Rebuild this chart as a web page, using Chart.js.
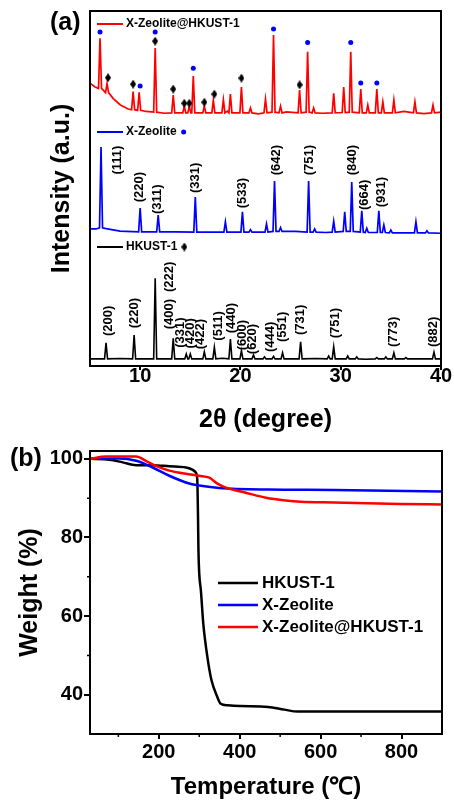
<!DOCTYPE html>
<html>
<head>
<meta charset="utf-8">
<title>XRD and TGA</title>
<script src="https://cdn.jsdelivr.net/npm/chart.js@4.4.1/dist/chart.umd.min.js"></script>
<style>
	html, body { margin:0; padding:0; background:#fff; }
	#wrap { position:relative; width:454px; height:803px; }
	canvas { position:absolute; left:0; }
	#xrd { top:0; }
	#tga { top:440px; }
</style>
</head>
<body>
<div id="wrap">
	<canvas id="xrd" width="454" height="440"></canvas>
	<canvas id="tga" width="454" height="363"></canvas>
</div>
<script>
// ---- (a) XRD, stacked patterns (intensity in a.u. incl. offset) ----
const hkustPeakPos  = [6.6, 9.4, 11.5, 13.3, 14.6, 15.0, 16.4, 17.4, 19.0, 20.1, 21.3, 22.4, 23.3, 24.2, 26.0, 28.8, 29.3, 30.7, 31.6, 33.6, 34.5, 35.3, 36.5, 39.3];
const hkustPeakTop  = [6.5, 8.7, 24.7, 7.8, 3.4, 3.4, 4.0, 5.3, 7.6, 4.3, 3.1, 2.6, 2.7, 3.7, 6.8, 2.8, 5.4, 2.8, 2.6, 2.4, 2.6, 3.7, 2.4, 3.9];
const hkustPeakBase = [2.0, 2.0, 2.0, 2.0, 2.0, 2.0, 2.0, 2.0, 2.0, 2.0, 2.0, 2.0, 2.0, 2.0, 2.0, 2.0, 2.0, 2.0, 2.0, 2.0, 2.0, 2.0, 2.0, 2.0];
const hkustBgTheta  = [5, 8.0, 12.2, 18.2, 22.0, 27.5, 32.5, 37.5, 40];
const hkustBgValue  = [2.0, 2.1, 2.0, 2.2, 2.0, 2.1, 1.9, 2.0, 2.0];

const zeolitePeakPos  = [6.1, 10.0, 11.8, 15.5, 18.5, 20.2, 21.0, 22.6, 23.4, 24.0, 26.8, 27.4, 29.3, 30.4, 31.1, 32.1, 32.6, 33.8, 34.3, 35.0, 37.5, 38.6];
const zeolitePeakTop  = [61.7, 44.5, 42.5, 47.6, 40.6, 43.4, 38.4, 40.0, 52.1, 39.0, 52.1, 38.6, 40.8, 43.4, 51.8, 43.7, 38.8, 43.7, 39.7, 38.3, 40.6, 38.1];
const zeolitePeakBase = [38.9, 37.8, 37.8, 37.7, 37.7, 37.7, 37.7, 37.7, 37.9, 37.9, 37.7, 37.7, 37.7, 37.9, 37.9, 37.7, 37.6, 37.6, 37.6, 37.5, 37.5, 37.5];
const zeoliteBgTheta  = [5, 5.6, 6.6, 8.0, 13.5, 17.0, 25.5, 28.5, 36.0, 40];
const zeoliteBgValue  = [38.6, 38.6, 38.7, 38.0, 37.8, 37.7, 37.9, 37.6, 37.5, 37.4];

const compositePeakPos  = [6.0, 6.7, 9.3, 9.9, 11.5, 13.3, 14.4, 14.9, 15.3, 16.4, 17.3, 18.3, 19.0, 20.1, 21.0, 22.5, 23.3, 24.0, 25.9, 26.7, 27.3, 29.3, 30.3, 31.0, 32.0, 32.7, 33.6, 34.2, 35.3, 37.4, 39.2];
const compositePeakTop  = [92.3, 79.6, 77.3, 77.1, 89.6, 76.3, 73.2, 73.2, 81.7, 73.2, 74.9, 75.0, 76.6, 78.6, 72.7, 75.2, 93.2, 73.2, 77.7, 88.5, 72.7, 76.8, 78.6, 88.5, 78.0, 73.5, 78.0, 74.4, 74.9, 74.4, 73.5];
const compositePeakBase = [78.2, 77.0, 72.2, 72.0, 71.5, 71.3, 71.3, 71.3, 71.3, 71.3, 71.3, 71.3, 71.3, 71.3, 71.3, 71.3, 71.5, 71.3, 71.3, 71.5, 71.3, 71.3, 71.4, 71.5, 71.3, 71.3, 71.3, 71.3, 71.3, 71.3, 71.3];
const compositeBgTheta  = [5, 5.5, 7.3, 8.0, 8.8, 10.6, 12.4, 18.7, 21.8, 24.6, 28.2, 36.3, 38.3, 40];
const compositeBgValue  = [79.7, 78.6, 75.4, 73.6, 72.4, 71.7, 71.2, 71.8, 71.0, 71.6, 71.2, 71.7, 71.1, 71.5];

// phase markers on the composite pattern
const zeoliteMarkTheta = [6.0, 10.0, 11.5, 15.3, 23.3, 26.7, 31.0, 32.0, 33.6];
const zeoliteMarkValue = [94.1, 78.9, 94.1, 83.9, 94.9, 91.1, 91.1, 79.7, 79.7];
const hkustMarkTheta   = [6.8, 9.3, 11.5, 13.3, 14.4, 14.9, 16.4, 17.4, 20.1, 25.9];
const hkustMarkValue   = [81.2, 79.4, 91.5, 78.0, 74.0, 74.0, 74.3, 76.6, 81.1, 79.2];

// Miller index labels
const zeoliteHkl      = ['(111)', '(220)', '(311)', '(331)', '(533)', '(642)', '(751)', '(840)', '(664)', '(931)'];
const zeoliteHklTheta = [7.7, 9.9, 11.7, 15.5, 20.2, 23.6, 26.9, 31.2, 32.4, 34.1];
const hkustHkl        = ['(200)', '(220)', '(222)', '(400)', '(331)', '(420)', '(422)', '(511)', '(440)', '(600)', '(620)', '(444)', '(551)', '(731)', '(751)', '(773)', '(882)'];
const hkustHklTheta   = [6.8, 9.4, 12.9, 12.9, 14.0, 15.0, 16.0, 17.8, 19.1, 20.2, 21.2, 23.0, 24.2, 26.0, 29.5, 35.3, 39.2];
// label centre heights (layout, in a.u.)
const zeoliteHklLevel = [58.0, 50.4, 47.0, 53.0, 48.7, 58.0, 58.0, 58.0, 48.2, 49.0];
const hkustHklLevel   = [12.7, 14.9, 25.1, 14.6, 9.4, 9.2, 9.0, 11.3, 13.5, 8.7, 7.6, 8.2, 11.0, 13.0, 12.1, 9.6, 9.6];

const xrdTicks = [10, 20, 30, 40];

// ---- (b) TGA ----
const hkustTemp   = [30, 78, 111, 144, 185, 226, 267, 284, 291, 295, 297, 298, 300, 304, 310, 320, 330, 344, 353, 370, 400, 470, 510, 543, 700, 900];
const hkustWeight = [100, 99.8, 99.1, 98.4, 98.4, 98.1, 97.8, 97.2, 96.6, 95.0, 85.0, 77.0, 70.8, 66.6, 58.1, 49.7, 43.8, 39.6, 37.7, 37.3, 37.1, 36.9, 36.2, 35.7, 35.7, 35.7];
const zeoliteTemp   = [30, 102, 144, 185, 226, 267, 300, 349, 469, 633, 900];
const zeoliteWeight = [100, 100.1, 99.5, 97.8, 95.7, 94.0, 93.2, 92.6, 92.2, 92.1, 91.7];
const compositeTemp   = [30, 70, 144, 168, 193, 226, 267, 300, 325, 345, 366, 415, 465, 514, 551, 633, 798, 900];
const compositeWeight = [100, 100.6, 100.6, 99.5, 98.2, 97.0, 96.2, 95.7, 95.2, 93.7, 92.7, 91.4, 90.1, 89.4, 89.1, 88.9, 88.5, 88.4];

const tempTicks = [200, 400, 600, 800];
const weightTicks = [40, 60, 80, 100];

(function(){
	const RED = '#ff0000';
	const BLUE = '#0000ff';
	const FONT = '"Liberation Sans", Arial, sans-serif';
	const PEAK_HALF = 0.15;

	function pattern(pos, top, base, bgX, bgY){
		const pts = bgX.map((x,i) => ({ x, y: bgY[i] }));
		pos.forEach((p,i) => {
			pts.push({ x: p - PEAK_HALF, y: base[i] });
			pts.push({ x: p, y: top[i] });
			pts.push({ x: p + PEAK_HALF, y: base[i] });
		});
		return pts.sort((a,b) => a.x - b.x);
	}

	function pairs(xs, ys){ return xs.map((x,i) => ({ x, y: ys[i] })); }

	const diamond = (function(){
		const c = document.createElement('canvas');
		c.width = 6; c.height = 9;
		const g = c.getContext('2d');
		g.fillStyle = '#000';
		g.beginPath(); g.moveTo(3,0); g.lineTo(6,4.5); g.lineTo(3,9); g.lineTo(0,4.5); g.closePath(); g.fill();
		return c;
	})();

	const framePlugin = {
		id: 'frame',
		afterDatasetsDraw(chart){
			const { ctx, chartArea: a } = chart;
			ctx.save();
			ctx.strokeStyle = '#000'; ctx.lineWidth = 2;
			ctx.strokeRect(a.left, a.top, a.right - a.left, a.bottom - a.top);
			ctx.restore();
		}
	};

	// panel letter drawn in canvas pixels
	const notesPlugin = {
		id: 'notes',
		afterDraw(chart, args, opts){
			const { ctx } = chart;
			ctx.save();
			ctx.fillStyle = '#000';
			ctx.font = 'bold 25px ' + FONT;
			ctx.textBaseline = 'middle';
			ctx.fillText(opts.panel, opts.panelX, opts.panelY);
			ctx.restore();
		}
	};

	const hklPlugin = {
		id: 'hkl',
		afterDatasetsDraw(chart, args, opts){
			const { ctx, scales: { x, y } } = chart;
			ctx.save();
			ctx.font = 'bold 13px ' + FONT;
			ctx.fillStyle = '#000';
			ctx.textAlign = 'center'; ctx.textBaseline = 'middle';
			opts.groups.forEach(g => g.text.forEach((t,i) => {
				ctx.save();
				ctx.translate(x.getPixelForValue(g.theta[i]), y.getPixelForValue(g.level[i]));
				ctx.rotate(-Math.PI/2);
				ctx.fillText(t, 0, 0);
				ctx.restore();
			}));
			ctx.restore();
		}
	};

	// inline series keys for the XRD panel
	const xrdKeyPlugin = {
		id: 'xrdKeys',
		afterDraw(chart, args, opts){
			const { ctx } = chart;
			ctx.save();
			ctx.font = 'bold 12px ' + FONT;
			ctx.textBaseline = 'middle';
			opts.rows.forEach(r => {
				ctx.strokeStyle = r.color; ctx.lineWidth = 2;
				ctx.beginPath(); ctx.moveTo(97, r.y); ctx.lineTo(123, r.y); ctx.stroke();
				ctx.fillStyle = '#000';
				ctx.fillText(r.text, 126, r.y);
				const mx = 126 + ctx.measureText(r.text).width + 7;
				if(r.mark === 'dot'){
					ctx.fillStyle = BLUE;
					ctx.beginPath(); ctx.arc(mx, r.y, 2.5, 0, Math.PI*2); ctx.fill();
				}else if(r.mark === 'diamond'){
					ctx.drawImage(diamond, mx - 3, r.y - 4.5);
				}
			});
			ctx.restore();
		}
	};

	const tgaKeyPlugin = {
		id: 'tgaKeys',
		afterDraw(chart){
			const { ctx } = chart;
			ctx.save();
			ctx.font = 'bold 17px ' + FONT;
			ctx.textBaseline = 'middle';
			chart.data.datasets.forEach((ds,i) => {
				const y = 143 + i*22;
				ctx.strokeStyle = ds.borderColor; ctx.lineWidth = 2.5;
				ctx.beginPath(); ctx.moveTo(218, y); ctx.lineTo(258, y); ctx.stroke();
				ctx.fillStyle = '#000';
				ctx.fillText(ds.label, 262, y);
			});
			ctx.restore();
		}
	};

	const minorTickPlugin = {
		id: 'minorTicks',
		afterDatasetsDraw(chart, args, opts){
			const { ctx, chartArea: a, scales: { x, y } } = chart;
			ctx.save();
			ctx.strokeStyle = '#000'; ctx.lineWidth = 1.5;
			ctx.beginPath();
			opts.x.forEach(v => { const px = x.getPixelForValue(v); ctx.moveTo(px, a.bottom); ctx.lineTo(px, a.bottom + 3); });
			opts.y.forEach(v => { const py = y.getPixelForValue(v); ctx.moveTo(a.left, py); ctx.lineTo(a.left - 3, py); });
			ctx.stroke();
			ctx.restore();
		}
	};

	const tickFont = { family: FONT, size: 20, weight: 'bold', lineHeight: 1 };
	const titleFont = { family: FONT, size: 25, weight: 'bold' };
	const tickGrid = { display: true, drawOnChartArea: false, drawTicks: true, color: '#000', lineWidth: 2 };

	function keepTicks(list){
		return scale => { scale.ticks = list.map(v => ({ value: v })); };
	}

	// (a) XRD
	new Chart(document.getElementById('xrd'), {
		type: 'line',
		data: {
			datasets: [
				{ label: 'X-Zeolite@HKUST-1', data: pattern(compositePeakPos, compositePeakTop, compositePeakBase, compositeBgTheta, compositeBgValue), borderColor: RED, borderWidth: 1.7, pointRadius: 0, order: 3 },
				{ label: 'X-Zeolite', data: pattern(zeolitePeakPos, zeolitePeakTop, zeolitePeakBase, zeoliteBgTheta, zeoliteBgValue), borderColor: BLUE, borderWidth: 1.7, pointRadius: 0, order: 3 },
				{ label: 'HKUST-1', data: pattern(hkustPeakPos, hkustPeakTop, hkustPeakBase, hkustBgTheta, hkustBgValue), borderColor: '#000', borderWidth: 1.6, pointRadius: 0, order: 3 },
				{ label: 'X-Zeolite marks', data: pairs(zeoliteMarkTheta, zeoliteMarkValue), showLine: false, pointStyle: 'circle', pointRadius: 2.5, backgroundColor: BLUE, borderWidth: 0, order: 0 },
				{ label: 'HKUST-1 marks', data: pairs(hkustMarkTheta, hkustMarkValue), showLine: false, pointStyle: diamond, order: 0 }
			]
		},
		options: {
			responsive: false,
			animation: false,
			events: [],
			layout: { padding: { top: 11, right: 13, left: 0, bottom: 0 } },
			plugins: {
				legend: { display: false },
				tooltip: { enabled: false },
				notes: { panel: '(a)', panelX: 50, panelY: 23 },
				hkl: { groups: [
					{ text: zeoliteHkl, theta: zeoliteHklTheta, level: zeoliteHklLevel },
					{ text: hkustHkl, theta: hkustHklTheta, level: hkustHklLevel }
				] },
				xrdKeys: { rows: [
					{ text: 'X-Zeolite@HKUST-1', color: RED, y: 24, mark: null },
					{ text: 'X-Zeolite', color: BLUE, y: 132, mark: 'dot' },
					{ text: 'HKUST-1', color: '#000', y: 247, mark: 'diamond' }
				] }
			},
			scales: {
				x: {
					type: 'linear', min: 5, max: 40,
					afterBuildTicks: keepTicks(xrdTicks),
					ticks: { font: tickFont, color: '#000', padding: -4, maxRotation: 0 },
					grid: { ...tickGrid, tickLength: 4 },
					border: { display: false },
					title: { display: true, text: '2θ (degree)', font: titleFont, color: '#000', padding: { top: 0, bottom: 5 } },
					afterFit(s){ s.height = 74; }
				},
				y: {
					min: 0, max: 100,
					ticks: { display: false },
					grid: { display: false },
					border: { display: false },
					title: { display: true, text: 'Intensity (a.u.)', font: titleFont, color: '#000', padding: { top: 47, bottom: 0 } },
					afterFit(s){ s.width = 90; }
				}
			}
		},
		plugins: [framePlugin, hklPlugin, xrdKeyPlugin, notesPlugin]
	});

	// (b) TGA
	const tgaLine = { borderWidth: 2.5, pointRadius: 0, cubicInterpolationMode: 'monotone' };
	new Chart(document.getElementById('tga'), {
		type: 'line',
		data: {
			datasets: [
				{ label: 'HKUST-1', data: pairs(hkustTemp, hkustWeight), borderColor: '#000', order: 2, ...tgaLine },
				{ label: 'X-Zeolite', data: pairs(zeoliteTemp, zeoliteWeight), borderColor: BLUE, order: 1, ...tgaLine },
				{ label: 'X-Zeolite@HKUST-1', data: pairs(compositeTemp, compositeWeight), borderColor: RED, order: 0, ...tgaLine }
			]
		},
		options: {
			responsive: false,
			animation: false,
			events: [],
			layout: { padding: { top: 11, right: 12, left: 0, bottom: 0 } },
			plugins: {
				legend: { display: false },
				tooltip: { enabled: false },
				notes: { panel: '(b)', panelX: 10, panelY: 19 },
				minorTicks: { x: [100, 300, 500, 700], y: [50, 70, 90] }
			},
			scales: {
				x: {
					type: 'linear', min: 30, max: 900,
					afterBuildTicks: keepTicks(tempTicks),
					ticks: { font: tickFont, color: '#000', padding: 3, maxRotation: 0 },
					grid: { ...tickGrid, tickLength: 5 },
					border: { display: false },
					title: { display: true, text: 'Temperature (℃)', font: { family: FONT, size: 24, weight: 'bold' }, color: '#000', padding: { top: 0, bottom: 1 } },
					afterFit(s){ s.height = 69; }
				},
				y: {
					min: 30, max: 102,
					afterBuildTicks: keepTicks(weightTicks),
					ticks: { font: tickFont, color: '#000', padding: 1 },
					grid: { ...tickGrid, tickLength: 6 },
					border: { display: false },
					title: { display: true, text: 'Weight (%)', font: titleFont, color: '#000', padding: { top: 15, bottom: 0 } },
					afterFit(s){ s.width = 90; }
				}
			}
		},
		plugins: [framePlugin, minorTickPlugin, tgaKeyPlugin, notesPlugin]
	});
})();
</script>
</body>
</html>
